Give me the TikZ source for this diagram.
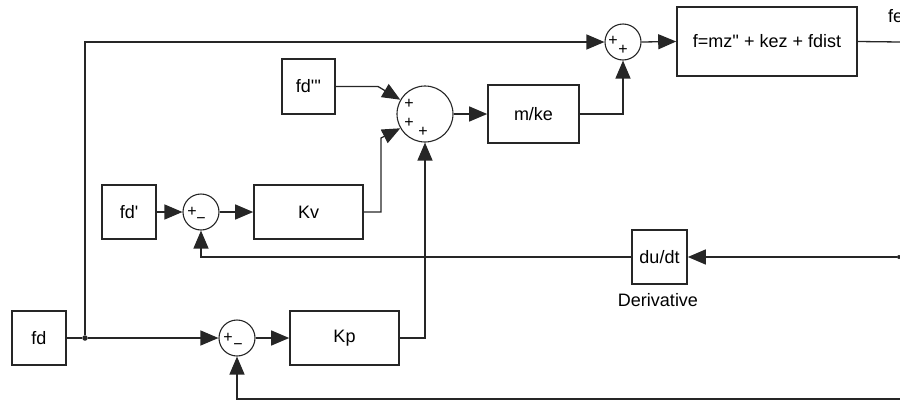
\documentclass[tikz,border=0pt]{standalone}
\usepackage{fontspec}
\setmainfont{Liberation Sans}
\usetikzlibrary{arrows.meta}
\begin{document}
\begin{tikzpicture}[x=1pt,y=-1pt,
  blk/.style={draw=black!85, line width=1.6pt, fill=white, inner sep=0pt, font=\fontsize{18}{21}\selectfont},
  sumc/.style={draw=black!85, line width=1.1pt, circle, inner sep=0pt, minimum size=36pt},
  conn/.style={draw=black!85, line width=1.3pt},
  arr/.style={conn, -{Triangle[length=18pt,width=15pt]}},
  sgn/.style={font=\fontsize{16}{16}\selectfont, inner sep=0pt},
  lbl/.style={font=\fontsize{18}{21}\selectfont, inner sep=0pt},
  jdot/.style={circle, fill=black!85, inner sep=0pt, minimum size=5.5pt}
]
\useasboundingbox (0,0) rectangle (900,402);

% blocks
\node[blk, minimum width=54pt, minimum height=54pt] (fd) at (39,338) {fd};
\node[blk, minimum width=53pt, minimum height=55pt] (fdpp) at (308.5,86.5) {fd\textquotesingle\textquotesingle\textquotesingle};
\node[blk, minimum width=54pt, minimum height=54pt] (fdp) at (129,212) {fd\textquotesingle};
\node[blk, minimum width=109pt, minimum height=54pt] (kv) at (308.5,212) {Kv};
\node[blk, minimum width=109pt, minimum height=54pt] (kp) at (344.5,338) {Kp};
\node[blk, minimum width=91pt, minimum height=58pt] (mke) at (533.5,114) {m/ke};
\node[blk, minimum width=180pt, minimum height=69pt] (F) at (767,41.5) {f=mz\textquotesingle\textquotesingle\ + kez + fdist};
\node[blk, minimum width=55pt, minimum height=54pt] (der) at (659.5,257) {du/dt};
\node[lbl] (derl) at (658,300) {Derivative};
\node[lbl, anchor=west] (fe) at (888,16) {fe};

% sums
\node[sumc] (s1) at (623,42) {};
\node[sumc, minimum size=56pt] (s2) at (425,114) {};
\node[sumc] (s3) at (201,212) {};
\node[sumc] (s4) at (237,338) {};

% signs
\node[sgn] (s1a) at (613,41) {+};
\node[sgn] (s1b) at (623,50) {+};
\node[sgn] (s2a) at (409,104) {+};
\node[sgn] (s2b) at (409,123) {+};
\node[sgn] (s2c) at (423,132) {+};
\node[sgn] (s3a) at (192,212) {+};
\node[sgn] (s3b) at (201,221) {−};
\node[sgn] (s4a) at (228,338) {+};
\node[sgn] (s4b) at (238,347) {−};

% junctions / coordinates
\node[jdot] (brd) at (85,338) {};
\node[jdot, minimum size=4pt] (rd) at (899,257) {};
\coordinate (fpc) at (378,86.5);
\coordinate (kvc) at (381,138);
\coordinate (fout) at (900,42);
\coordinate (bfb) at (900,399);

% connectors
\draw[conn] (fd.east) -- (brd);
\draw[arr] (brd) -- (s4.west);
\draw[arr] (brd) |- (s1.west);
\draw[arr] (s4.east) -- (kp.west);
\draw[arr] (kp.east) -| (s2.south);
\draw[arr] (fdp.east) -- (s3.west);
\draw[arr] (s3.east) -- (kv.west);
\draw[arr] (kv.east) -| (kvc) -- (s2.210);
\draw[arr] (fdpp.east) -- (fpc) -- (s2.150);
\draw[arr] (s2.east) -- (mke.west);
\draw[arr] (mke.east) -| (s1.south);
\draw[arr] (s1.east) -- (F.west);
\draw[conn] (F.east) -- (fout);
\draw[arr] (rd) -- (der.east);
\draw[arr] (der.west) -| (s3.south);
\draw[arr] (bfb) -| (s4.south);
\end{tikzpicture}
\end{document}
